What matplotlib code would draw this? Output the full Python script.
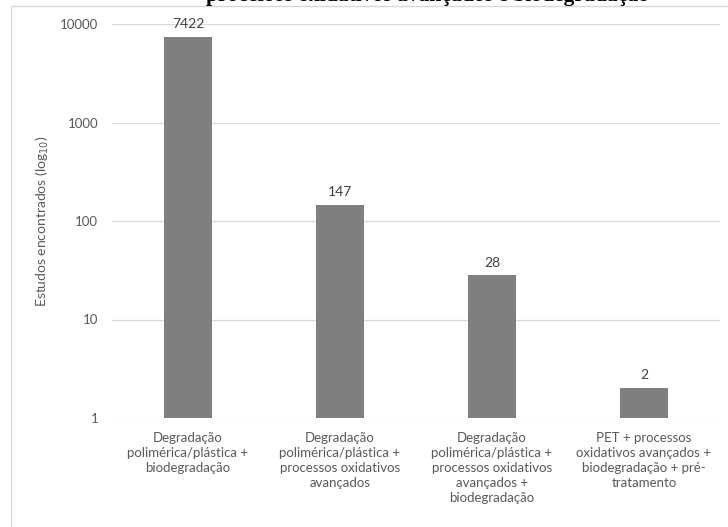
import matplotlib.pyplot as plt
from matplotlib.patches import Rectangle
from matplotlib.ticker import FixedLocator, NullLocator

categorias = [
    "Degradação\npolimérica/plástica +\nbiodegradação",
    "Degradação\npolimérica/plástica +\nprocessos oxidativos\navançados",
    "Degradação\npolimérica/plástica +\nprocessos oxidativos\navançados +\nbiodegradação",
    "PET + processos\noxidativos avançados +\nbiodegradação + pré-\ntratamento",
]
estudos = [7422, 147, 28, 2]
ticks_y = [1, 10, 100, 1000, 10000]

cinza_txt = "#595959"
plt.rcParams['font.family'] = ['Lato', 'DejaVu Sans']

fig = plt.figure(figsize=(7.28, 5.27), dpi=100)
ax = fig.add_axes([112 / 728, 1 - 418 / 527, 608 / 728, 394 / 527])

# moldura do gráfico
fig.patches.append(Rectangle((11 / 728, -0.1), 1.2, 1 - 6 / 527 + 0.1,
                             transform=fig.transFigure, fill=False,
                             edgecolor="#d9d9d9", linewidth=1.0))

# título (só a parte de baixo aparece no topo)
fig.text(428 / 728, 1 - 1.5 / 527, "processos oxidativos avançados e biodegradação",
         ha="center", va="baseline", fontsize=15.5, fontweight="bold",
         family=["Liberation Serif", "DejaVu Serif"], color="black")

x = range(len(categorias))
barras = ax.bar(x, estudos, width=0.31, color="#7f7f7f", zorder=3)

ax.set_yscale("log")
ax.set_ylim(1, 10000)
ax.set_xlim(-0.5, len(categorias) - 0.5)
ax.yaxis.set_major_locator(FixedLocator(ticks_y))
ax.yaxis.set_minor_locator(NullLocator())
ax.set_yticklabels([str(t) for t in ticks_y])
ax.grid(axis="y", color="#d9d9d9", linewidth=0.9, zorder=0)

for s in ax.spines.values():
    s.set_visible(False)
ax.tick_params(length=0, labelsize=9.5, colors=cinza_txt)
ax.tick_params(axis="y", pad=10)
ax.tick_params(axis="x", pad=10)
ax.set_xticks(list(x))
ax.set_xticklabels(categorias, linespacing=1.3)

for b, v in zip(barras, estudos):
    ax.annotate(str(v), (b.get_x() + b.get_width() / 2, v),
                xytext=(0, 5), textcoords="offset points",
                ha="center", va="bottom", fontsize=10, color="#404040")

ax.set_ylabel("Estudos encontrados (log$_{10}$)", fontsize=10, color=cinza_txt)
ax.yaxis.set_label_coords(-0.1, 0.5)

fig.savefig("out.png", dpi=100)
